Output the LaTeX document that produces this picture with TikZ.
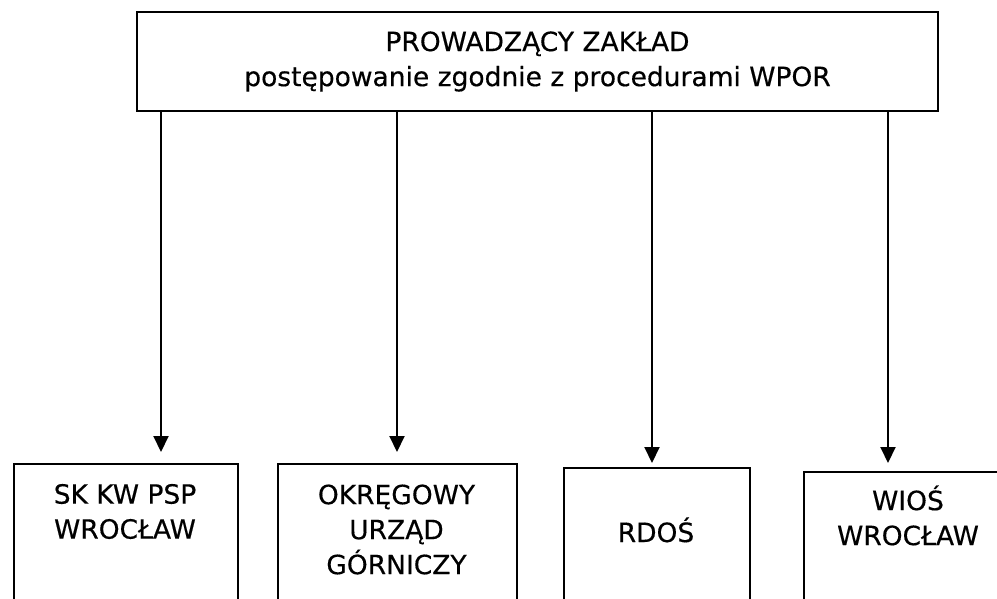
\documentclass[tikz,border=0pt]{standalone}
\usepackage{fontspec}
\setmainfont{DejaVu Sans}[FakeBold=0.4]
\usetikzlibrary{arrows.meta}
\tikzset{
  frame/.style={draw=black, line width=2pt, rectangle, inner sep=0pt, anchor=north west},
  lbl/.style={align=center, inner sep=0pt, font=\fontsize{26.5}{35}\selectfont},
  arr/.style={line width=2pt, -{Triangle[width=15pt,length=16pt]}}
}
\begin{document}
\begin{tikzpicture}[x=1pt,y=-1pt]
\useasboundingbox (0,0) rectangle (997,598);
\clip (0,0) rectangle (997,598);
\fill[white] (0,0) rectangle (997,598);
% top box
\node[frame, minimum width=801pt, minimum height=99pt, lbl] (top) at (136,11)
  {PROWADZĄCY ZAKŁAD\\postępowanie zgodnie z procedurami WPOR};
% bottom boxes
\node[frame, minimum width=224pt, minimum height=200pt] (b1) at (13,463) {};
\node[frame, minimum width=239pt, minimum height=200pt] (b2) at (277,463) {};
\node[frame, minimum width=186pt, minimum height=200pt] (b3) at (563,467) {};
\node[frame, minimum width=215pt, minimum height=200pt] (b4) at (803,471) {};
% labels
\node[lbl] (t1) at (125,511.5) {SK KW PSP\\WROCŁAW};
\node[lbl] (t2) at (396.5,529.5) {OKRĘGOWY\\URZĄD\\GÓRNICZY};
\node[lbl, anchor=base] (t3) at (656,542) {RDOŚ};
\node[lbl] (t4) at (908,515.5) {WIOŚ\\WROCŁAW};
% arrow tips
\coordinate (e1) at (161,452);
\coordinate (e2) at (397,452);
\coordinate (e3) at (652,463);
\coordinate (e4) at (888,463);
\draw[arr] (top.south -| e1) -- (e1);
\draw[arr] (top.south -| e2) -- (e2);
\draw[arr] (top.south -| e3) -- (e3);
\draw[arr] (top.south -| e4) -- (e4);
\end{tikzpicture}
\end{document}
